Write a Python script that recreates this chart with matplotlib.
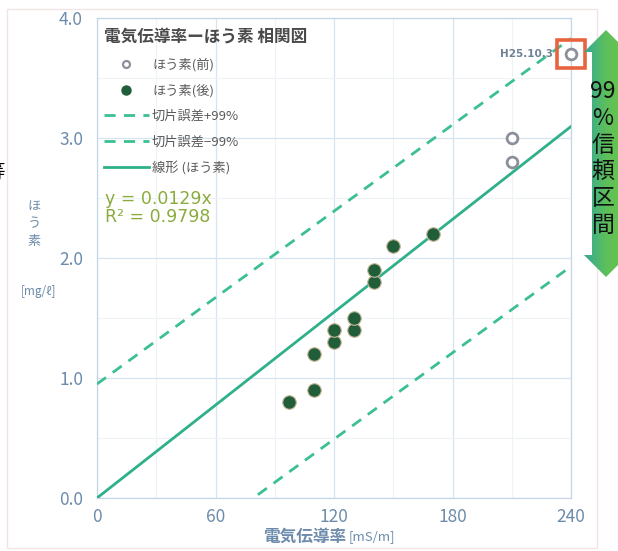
import numpy as np
import matplotlib
matplotlib.use('Agg')
import matplotlib.pyplot as plt
from matplotlib.lines import Line2D
from matplotlib.patches import Polygon, Rectangle

plt.rcParams['font.family'] = ['Noto Sans CJK JP', 'DejaVu Sans']

# data
before_x = [210, 210, 240]
before_y = [3.0, 2.8, 3.7]
after_x = [97, 110, 110, 120, 120, 130, 130, 140, 140, 150, 170]
after_y = [0.8, 0.9, 1.2, 1.3, 1.4, 1.4, 1.5, 1.8, 1.9, 2.1, 2.2]
fit_slope = 0.0129
band_slope = 0.0120
band_offset = 0.95
x_ticks = [0, 60, 120, 180, 240]
y_ticks = [0.0, 1.0, 2.0, 3.0, 4.0]

W, H = 618, 551
fig = plt.figure(figsize=(W / 100, H / 100), dpi=100)

def fx(x):
    return x / W

def fy(y):
    return 1 - y / H

# outer chart frame
fig.patches.append(Rectangle((fx(7), fy(548)), fx(597) - fx(7), fy(9) - fy(548),
                             transform=fig.transFigure, fill=False,
                             ec='#f0e4e4', lw=1.0))

ax = fig.add_axes([fx(97), fy(498), fx(571) - fx(97), fy(18) - fy(498)])
ax.set_xlim(0, 240)
ax.set_ylim(0, 4.0)

tick_col = '#6d8cab'
ax.set_xticks(x_ticks)
ax.set_yticks(y_ticks)
ax.set_yticklabels([f'{v:.1f}' for v in y_ticks])
ax.set_xticks(np.arange(30, 240, 60), minor=True)
ax.set_yticks(np.arange(0.5, 4.0, 1.0), minor=True)
ax.tick_params(which='both', length=0, labelsize=12.5, labelcolor=tick_col)
ax.tick_params(axis='x', pad=7)
ax.tick_params(axis='y', pad=10)
ax.grid(which='major', color='#d6e4f0', lw=0.9)
ax.grid(which='minor', color='#eef3f8', lw=0.8)
for s in ax.spines.values():
    s.set_color('#c5d6e6')
    s.set_linewidth(0.9)

xs = np.array([0, 240])
line_col = '#2fb08a'
dash_col = '#3cbf92'
ax.plot(xs, fit_slope * xs, color=line_col, lw=2.0, zorder=3)
ax.plot(xs, band_slope * xs + band_offset, color=dash_col, lw=2.0,
        dashes=(4, 3), zorder=3)
ax.plot(xs, band_slope * xs - band_offset, color=dash_col, lw=2.0,
        dashes=(4, 3), zorder=3)

ax.scatter(after_x, after_y, s=95, color='#1f5e38', edgecolors='#c9b79a',
           linewidths=0.8, zorder=5)
ax.scatter(before_x, before_y, s=60, facecolors='white', edgecolors='#8b909a',
           linewidths=2.0, zorder=5, clip_on=False)

# highlight box on the last "before" point
ax.plot(before_x[-1], before_y[-1], marker='s', ms=20, mfc='none',
        mec='#e8643e', mew=2.6, clip_on=False, zorder=6)
ax.text(before_x[-1] - 9, before_y[-1], 'H25.10.3', ha='right', va='center',
        fontsize=7.5, fontweight='bold', color='#6f8298', family='DejaVu Sans')

handles = [
    Line2D([], [], ls='none', marker='o', ms=5, mfc='white', mec='#8b909a', mew=1.6),
    Line2D([], [], ls='none', marker='o', ms=6.5, mfc='#1f5e38', mec='#1f5e38'),
    Line2D([], [], color=dash_col, lw=2.0, dashes=(4, 3)),
    Line2D([], [], color=dash_col, lw=2.0, dashes=(4, 3)),
    Line2D([], [], color=line_col, lw=2.0),
]
labels = ['ほう素(前)', 'ほう素(後)', '切片誤差+99%', '切片誤差−99%', '線形 (ほう素)']
leg = ax.legend(handles, labels, loc='upper left', bbox_to_anchor=(-0.005, 1.0),
                title='電気伝導率ーほう素 相関図', title_fontsize=12, fontsize=9.5,
                frameon=False, labelspacing=0.95, handlelength=3.4,
                handletextpad=0.25, borderaxespad=0.3, alignment='left')
leg.get_title().set_color('#4a4a4a')
leg.get_title().set_fontweight('bold')
for t in leg.get_texts():
    t.set_color('#5a5a5a')

ax.text(0.017, 0.604, 'y = 0.0129x\nR² = 0.9798', transform=ax.transAxes,
        fontsize=12.5, color='#8aac3c', va='center', linespacing=1.05,
        family='DejaVu Sans')

# axis titles
lab_col = '#6d8cab'
fig.text(fx(34), fy(224), 'ほ\nう\n素', ha='center', va='center', fontsize=9.5,
         color=lab_col, linespacing=1.45)
fig.text(fx(38), fy(292), '[mg/ℓ]', ha='center', va='center', fontsize=8.5,
         color=lab_col)
fig.text(fx(346), fy(537), '電気伝導率', ha='right', va='center', fontsize=12,
         color=lab_col, fontweight='bold')
fig.text(fx(349), fy(537), '[mS/m]', ha='left', va='center', fontsize=9.5,
         color=lab_col, style='italic')

# clipped character at the left edge
fig.text(fx(-15), fy(172), '等', ha='left', va='center', fontsize=14,
         color='black')

# double arrow on the right
fig.patches.append(Rectangle((fx(573), fy(262)), fx(589) - fx(573), fy(75) - fy(262),
                             transform=fig.transFigure, color='white', zorder=2))
arr = [(606, 30), (628, 52), (620, 52), (620, 255), (628, 255), (606, 277),
       (584, 255), (592, 255), (592, 52), (584, 52)]
arr_ax = fig.add_axes([0, 0, 1, 1], zorder=3)
arr_ax.set_xlim(0, W)
arr_ax.set_ylim(H, 0)
arr_ax.axis('off')
poly = Polygon(arr, closed=True, transform=arr_ax.transData, fc='none', ec='none')
arr_ax.add_patch(poly)
grad = np.linspace(0, 1, 64)[None, :]
cmap = matplotlib.colors.LinearSegmentedColormap.from_list(
    'g', ['#35a89a', '#5cbf5a', '#6dc64a'])
im = arr_ax.imshow(np.repeat(grad, 4, axis=0), extent=(584, 628, 277, 30),
                   cmap=cmap, aspect='auto')
im.set_clip_path(poly)
arr_ax.set_xlim(0, W)
arr_ax.set_ylim(H, 0)

chars = ['99', '%', '信', '頼', '区', '間']
for i, c in enumerate(chars):
    x = 590 if c == '99' else 603
    arr_ax.text(x, 92 + i * 26.6, c, ha='left' if c == '99' else 'center',
                va='center', fontsize=16.5, color='#111111')

fig.savefig('out.png', dpi=100, facecolor='white')
